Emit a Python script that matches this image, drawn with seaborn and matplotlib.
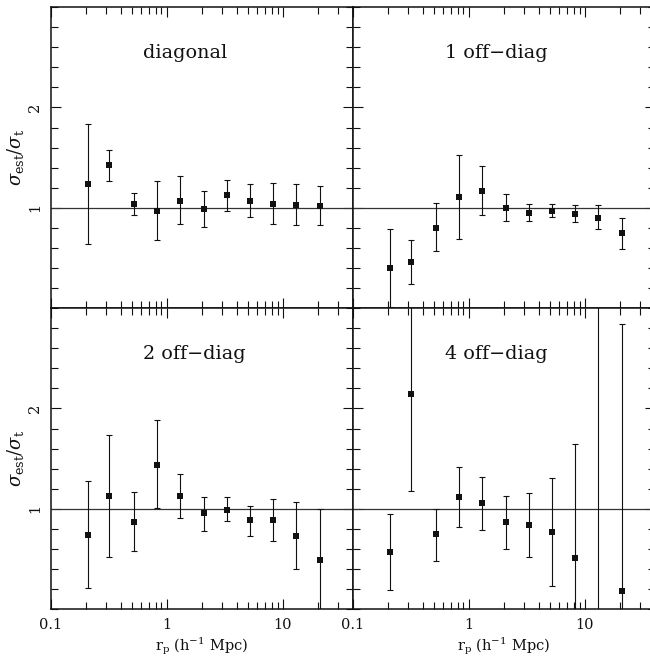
import numpy as np
import pandas as pd
import matplotlib
matplotlib.use("Agg")
import matplotlib.pyplot as plt
from matplotlib.ticker import FixedLocator, LogLocator, FuncFormatter, MultipleLocator, NullFormatter
import seaborn as sns

# projected separations (h^-1 Mpc)
r_p = [0.21, 0.32, 0.52, 0.83, 1.3, 2.1, 3.3, 5.2, 8.3, 13, 21]

# sigma_est / sigma_t for each covariance approximation, with error-bar ends
diag = [1.24, 1.43, 1.04, 0.97, 1.07, 0.99, 1.13, 1.07, 1.04, 1.03, 1.02]
diag_lo = [0.64, 1.27, 0.93, 0.68, 0.84, 0.81, 0.97, 0.91, 0.84, 0.83, 0.83]
diag_hi = [1.84, 1.58, 1.15, 1.27, 1.32, 1.17, 1.28, 1.24, 1.25, 1.24, 1.22]

off1 = [0.40, 0.46, 0.80, 1.11, 1.17, 1.00, 0.95, 0.97, 0.94, 0.90, 0.75]
off1_lo = [0.01, 0.24, 0.57, 0.69, 0.93, 0.87, 0.87, 0.91, 0.86, 0.79, 0.59]
off1_hi = [0.79, 0.68, 1.05, 1.53, 1.42, 1.14, 1.04, 1.04, 1.03, 1.03, 0.90]

off2 = [0.74, 1.13, 0.87, 1.44, 1.13, 0.96, 0.99, 0.89, 0.89, 0.73, 0.49]
off2_lo = [0.21, 0.52, 0.58, 1.01, 0.91, 0.78, 0.88, 0.73, 0.68, 0.40, -0.02]
off2_hi = [1.28, 1.74, 1.17, 1.88, 1.35, 1.12, 1.12, 1.03, 1.10, 1.07, 1.00]

off4 = [0.57, 2.14, 0.75, 1.12, 1.06, 0.87, 0.84, 0.77, 0.51, -0.50, 0.18]
off4_lo = [0.19, 1.18, 0.48, 0.82, 0.79, 0.60, 0.52, 0.23, -0.63, -4.30, -2.48]
off4_hi = [0.95, 3.10, 1.00, 1.42, 1.32, 1.13, 1.16, 1.31, 1.65, 3.30, 2.84]

panel_titles = ["diagonal", "1 off\u2212diag", "2 off\u2212diag", "4 off\u2212diag"]
x_ticks = [0.1, 1, 10]
y_ticks = [1, 2]

sns.set_theme(style="ticks")
plt.rcParams["font.family"] = ["DejaVu Serif"]
plt.rcParams["mathtext.fontset"] = "dejavuserif"

fig = plt.figure(figsize=(6.5, 6.6), dpi=100)

W, H = 650.0, 660.0
left_x, right_x = 50.7 / W, 352.7 / W
pw = 302.0 / W
top_y, bot_y = 1 - 308.3 / H, 1 - 609.3 / H
ph = 301.3 / H

positions = [(left_x, top_y), (right_x, top_y), (left_x, bot_y), (right_x, bot_y)]
series = [(diag, diag_lo, diag_hi), (off1, off1_lo, off1_hi),
          (off2, off2_lo, off2_hi), (off4, off4_lo, off4_hi)]

ink = "#111111"
for i, ((x0, y0), (y, lo, hi), title) in enumerate(zip(positions, series, panel_titles)):
    ax = fig.add_axes([x0, y0, pw, ph])
    df = pd.DataFrame({"r_p": r_p, "ratio": y, "lo": lo, "hi": hi})

    ax.axhline(1.0, color="#333333", lw=0.9, zorder=1)
    ax.errorbar(df["r_p"], df["ratio"],
                yerr=[df["ratio"] - df["lo"], df["hi"] - df["ratio"]],
                fmt="none", ecolor=ink, elinewidth=0.8, capsize=2.3,
                capthick=0.8, zorder=2)
    sns.scatterplot(data=df, x="r_p", y="ratio", marker="s", s=14,
                    color=ink, linewidth=0, legend=False, ax=ax, zorder=3)

    ax.set_xscale("log")
    ax.set_xlim(0.1, 40)
    ax.set_ylim(0, 3)
    ax.xaxis.set_major_locator(FixedLocator(x_ticks))
    ax.xaxis.set_minor_locator(LogLocator(base=10, subs=np.arange(2, 10)))
    ax.xaxis.set_major_formatter(FuncFormatter(lambda v, _: f"{v:g}"))
    ax.xaxis.set_minor_formatter(NullFormatter())
    ax.yaxis.set_major_locator(FixedLocator(y_ticks))
    ax.yaxis.set_minor_locator(MultipleLocator(0.2))

    ax.tick_params(which="both", direction="in", top=True, right=True,
                   color=ink, width=0.8, labelsize=10.5, labelcolor=ink, pad=6)
    ax.tick_params(which="major", length=7.5)
    ax.tick_params(which="minor", length=5)
    for lab in ax.get_yticklabels():
        lab.set_rotation(90)
        lab.set_va("center")
    for sp in ax.spines.values():
        sp.set_linewidth(1.1)
        sp.set_color(ink)

    ax.text(0.307, 0.846, title, transform=ax.transAxes, ha="left",
            va="center", fontsize=13.8, color=ink)

    if i in (0, 2):
        ax.set_ylabel(r"$\sigma_{\rm est}/\sigma_{\rm t}$", fontsize=13,
                      color=ink, labelpad=2)
    else:
        ax.set_ylabel("")
        ax.tick_params(labelleft=False)
    if i in (2, 3):
        ax.set_xlabel(r"r$_{\rm p}$ (h$^{-1}$ Mpc)", fontsize=10.5,
                      color=ink, labelpad=3)
    else:
        ax.set_xlabel("")
        ax.tick_params(labelbottom=False)

fig.savefig("out.png", dpi=100)
